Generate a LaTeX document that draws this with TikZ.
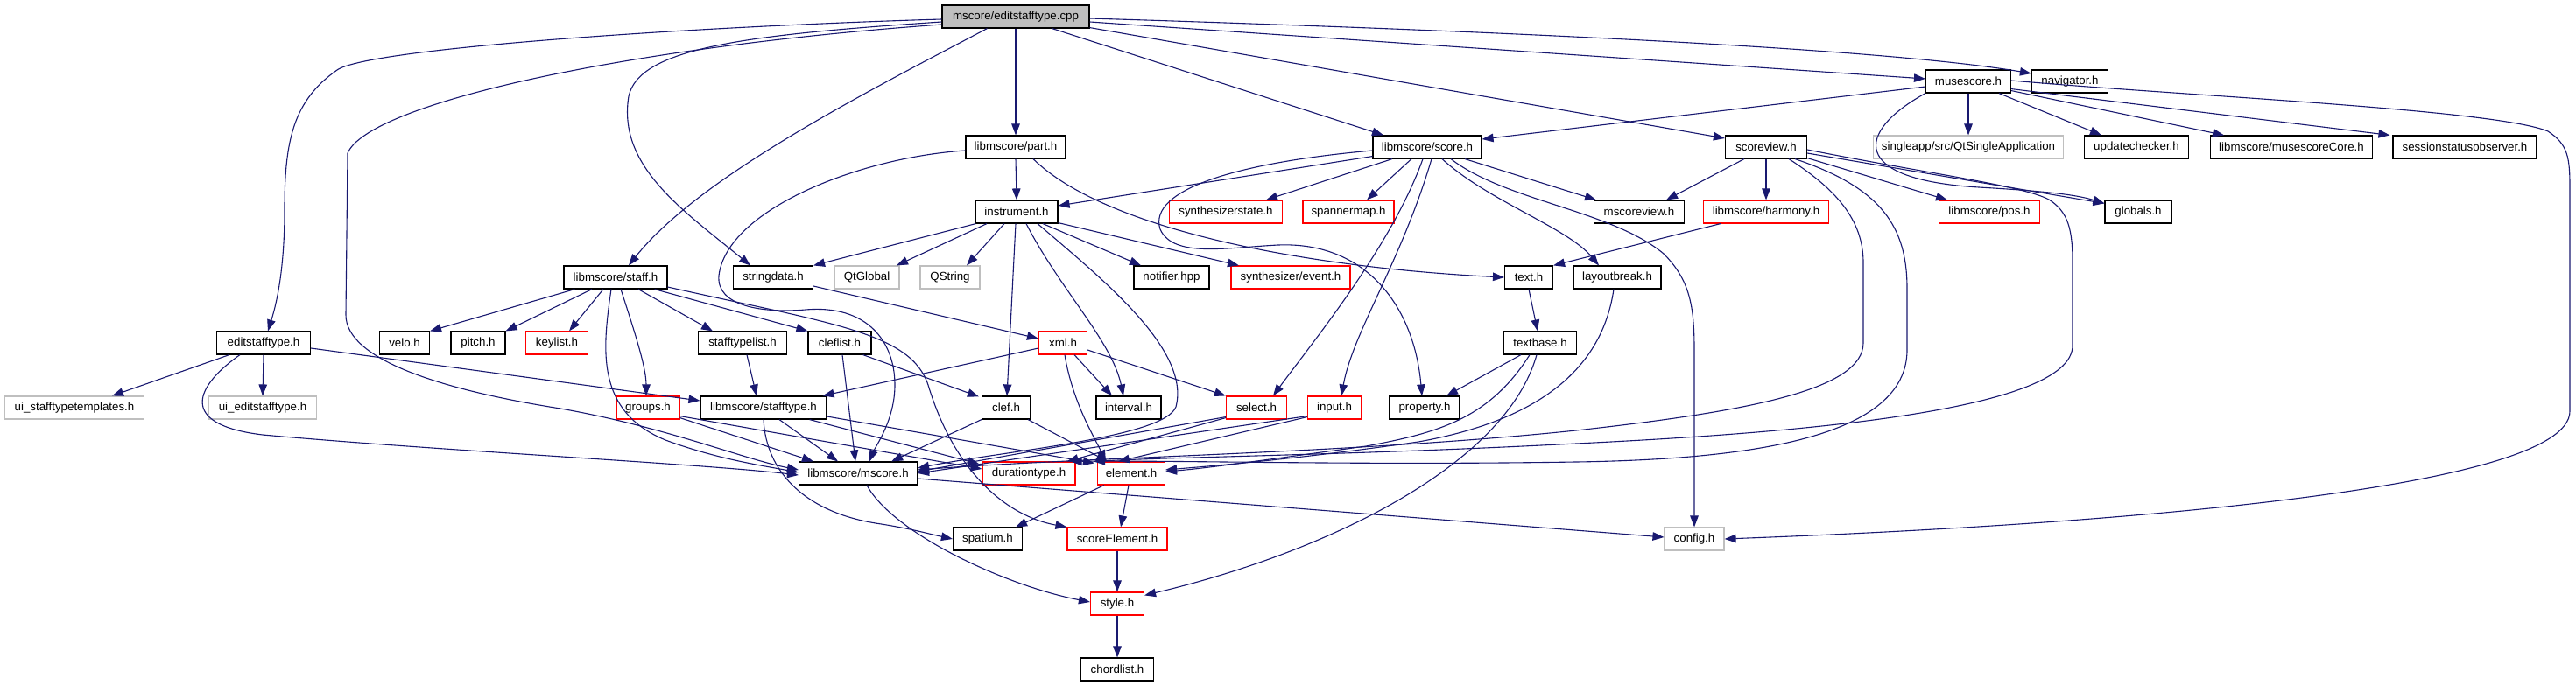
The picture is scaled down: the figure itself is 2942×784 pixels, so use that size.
\documentclass[tikz,border=0pt]{standalone}
\usepackage{fontspec}
\setmainfont{Liberation Sans}
\usetikzlibrary{arrows.meta,calc}
\definecolor{eblue}{HTML}{191970}
\definecolor{rootgray}{HTML}{BFBFBF}
\definecolor{lgray}{HTML}{BFBFBF}
\definecolor{nred}{HTML}{FF0000}
\tikzset{
  nb/.style={draw=black, fill=white, line width=1.15pt, minimum height=26pt, inner xsep=2pt, inner ysep=1pt,
    font=\fontsize{13.3}{15}\selectfont},
  nr/.style={nb, draw=nred},
  ng/.style={nb, draw=lgray},
  edg/.style={draw=eblue, line width=1.1pt, -{Triangle[length=13pt,width=9.5pt]}},
}
\begin{document}
\begin{tikzpicture}[x=1pt,y=-1pt]
\useasboundingbox (0,0) rectangle (2942,784);
% row 1
\node[nb, fill=rootgray, minimum width=168pt] (root) at (1160,19) {mscore/editstafftype.cpp};
% row 2
\node[nb, minimum width=97pt] (mus) at (2248,93) {musescore.h};
\node[nb, minimum width=87pt] (nav) at (2364,93) {navigator.h};
% row 3
\node[nb, minimum width=114pt] (part) at (1160,168) {libmscore/part.h};
\node[nb, minimum width=124pt] (score) at (1630,168) {libmscore/score.h};
\node[nb, minimum width=93pt] (sview) at (2017,168) {scoreview.h};
\node[ng, minimum width=217pt] (qsa) at (2248,168) {singleapp/src/QtSingleApplication};
\node[nb, minimum width=119pt] (upd) at (2440,168) {updatechecker.h};
\node[nb, minimum width=185pt] (mcore) at (2617,168) {libmscore/musescoreCore.h};
\node[nb, minimum width=164pt] (sso) at (2815,168) {sessionstatusobserver.h};
% row 4
\node[nb, minimum width=94pt] (instr) at (1161,242) {instrument.h};
\node[nr, minimum width=129pt] (synst) at (1400,242) {synthesizerstate.h};
\node[nr, minimum width=104pt] (spmap) at (1540,242) {spannermap.h};
\node[nb, minimum width=103pt] (msv) at (1872,242) {mscoreview.h};
\node[nr, minimum width=143pt] (harm) at (2017,242) {libmscore/harmony.h};
\node[nr, minimum width=115pt] (pos) at (2272,242) {libmscore/pos.h};
\node[nb, minimum width=76pt] (glob) at (2442,242) {globals.h};
% row 5
\node[nb, minimum width=118pt] (staff) at (703,317) {libmscore/staff.h};
\node[nb, minimum width=91pt] (sdata) at (883,317) {stringdata.h};
\node[ng, minimum width=74pt] (qtg) at (990,317) {QtGlobal};
\node[ng, minimum width=68pt] (qstr) at (1085,317) {QString};
\node[nb, minimum width=86pt] (notif) at (1338,317) {notifier.hpp};
\node[nr, minimum width=136pt] (sev) at (1474,317) {synthesizer/event.h};
\node[nb, minimum width=55pt] (text) at (1746,317) {text.h};
\node[nb, minimum width=100pt] (lbrk) at (1847,317) {layoutbreak.h};
% row 6
\node[nb, minimum width=107pt] (esth) at (301,392) {editstafftype.h};
\node[nb, minimum width=57pt] (velo) at (462,392) {velo.h};
\node[nb, minimum width=62pt] (pitch) at (546,392) {pitch.h};
\node[nr, minimum width=71pt] (keyl) at (636,392) {keylist.h};
\node[nb, minimum width=101pt] (stl) at (848,392) {stafftypelist.h};
\node[nb, minimum width=72pt] (cfl) at (959,392) {cleflist.h};
\node[nr, minimum width=55pt] (xml) at (1214,392) {xml.h};
\node[nb, minimum width=83pt] (tbase) at (1759,392) {textbase.h};
% row 7
\node[ng, minimum width=159pt] (uitt) at (85,466) {ui\_stafftypetemplates.h};
\node[ng, minimum width=123pt] (uiest) at (300,466) {ui\_editstafftype.h};
\node[nr, minimum width=72pt] (groups) at (740,466) {groups.h};
\node[nb, minimum width=144pt] (stype) at (872,466) {libmscore/stafftype.h};
\node[nb, minimum width=55pt] (clef) at (1149,466) {clef.h};
\node[nb, minimum width=74pt] (intv) at (1289,466) {interval.h};
\node[nr, minimum width=69pt] (sel) at (1435,466) {select.h};
\node[nr, minimum width=61pt] (inp) at (1524,466) {input.h};
\node[nb, minimum width=80pt] (prop) at (1627,466) {property.h};
% row 8
\node[nb, minimum width=135pt] (mscore) at (980,541) {libmscore/mscore.h};
\node[nr, minimum width=106pt] (dur) at (1175,541) {durationtype.h};
\node[nr, minimum width=77pt] (elem) at (1292,541) {element.h};
% row 9
\node[nb, minimum width=79pt] (spat) at (1128,616) {spatium.h};
\node[nr, minimum width=114pt] (selem) at (1276,616) {scoreElement.h};
\node[ng, minimum width=68pt] (config) at (1935,616) {config.h};
% row 10-11
\node[nr, minimum width=61pt] (style) at (1276,690) {style.h};
\node[nb, minimum width=83pt] (chord) at (1276,765) {chordlist.h};

% ---- edges from root
\draw[edg] ($(root.west)+(0,3)$) .. controls (800,30) and (420,55) .. (385,80) .. controls (335,115) and (325,160) .. (325,240) .. controls (325,300) and (318,340) .. ($(esth.north)+(5,0)$);
\draw[edg] ($(root.west)+(0,9)$) .. controls (700,55) and (420,120) .. (397,175) -- (395,360) .. controls (395,410) and (500,445) .. (640,467) .. controls (760,488) and (850,525) .. ($(mscore.west)+(0,-4)$);
\draw[edg] ($(root.west)+(0,6)$) .. controls (850,40) and (730,55) .. (718,110) .. controls (705,190) and (780,240) .. ($(sdata.north)+(-26,0)$);
\draw[edg] ($(root.south west)+(52,0)$) .. controls (1000,100) and (800,200) .. ($(staff.north)+(15,0)$);
\draw[edg] (root.south) -- (part.north);
\draw[edg] ($(root.south east)+(-43,0)$) -- ($(score.north)+(-50,0)$);
\draw[edg] ($(root.south east)+(0,-1)$) -- ($(sview.west)+(0,-10)$);
\draw[edg] ($(root.east)+(0,6)$) -- ($(mus.west)+(0,-3)$);
\draw[edg] ($(root.east)+(0,2)$) .. controls (1700,35) and (2150,55) .. ($(nav.west)+(0,-9)$);

% ---- musescore.h
\draw[edg] ($(mus.west)+(0,6)$) -- ($(score.east)+(0,-9)$);
\draw[edg] (mus.south) -- (qsa.north);
\draw[edg] ($(mus.south)+(35,0)$) -- ($(upd.north)+(-40,0)$);
\draw[edg] ($(mus.south east)+(0,-3)$) -- ($(mcore.north)+(-77,0)$);
\draw[edg] ($(mus.south east)+(0,-5)$) -- ($(sso.north west)+(-3,0)$);
\draw[edg] (mus.south west) .. controls (2120,150) and (2110,205) .. (2260,214) .. controls (2330,218) and (2370,222) .. ($(glob.north west)+(0,4)$);
\draw[edg] ($(mus.east)+(0,-1)$) .. controls (2500,110) and (2850,125) .. (2910,150) .. controls (2933,165) and (2935,180) .. (2935,215) -- (2935,470) .. controls (2935,560) and (2400,600) .. (config.east);

% ---- score.h
\draw[edg] ($(score.south west)+(0,-3)$) -- ($(instr.east)+(0,-7)$);
\draw[edg] ($(score.south)+(-40,0)$) -- ($(synst.north)+(46,0)$);
\draw[edg] ($(score.south)+(-18,0)$) -- ($(spmap.north)+(21,0)$);
\draw[edg] ($(score.south)+(43,0)$) -- ($(msv.north)+(-49,0)$);
\draw[edg] ($(score.south)+(17,0)$) .. controls (1700,230) and (1790,260) .. ($(lbrk.north)+(-21,0)$);
\draw[edg] ($(score.south)+(27,0)$) .. controls (1720,230) and (1840,240) .. (1900,290) .. controls (1930,320) and (1935,350) .. (1935,400) -- (config.north);
\draw[edg] ($(score.west)+(0,4)$) .. controls (1420,185) and (1310,215) .. (1325,262) .. controls (1340,295) and (1400,283) .. (1460,280) .. controls (1560,276) and (1615,350) .. ($(prop.north)+(-3,0)$);
\draw[edg] ($(score.south)+(-5,0)$) .. controls (1590,280) and (1500,390) .. ($(sel.north)+(19,0)$);
\draw[edg] ($(score.south)+(5,0)$) .. controls (1600,300) and (1545,380) .. ($(inp.north)+(8,0)$);

% ---- scoreview.h
\draw[edg] ($(sview.south)+(-25,0)$) -- ($(msv.north)+(31,0)$);
\draw[edg] (sview.south) -- (harm.north);
\draw[edg] ($(sview.south east)+(0,-1)$) -- ($(pos.north)+(-48,0)$);
\draw[edg] ($(sview.east)+(0,7)$) -- ($(glob.north west)+(0,4)$);
\draw[edg] ($(sview.south)+(26,0)$) .. controls (2095,215) and (2128,250) .. (2128,300) -- (2128,392) .. controls (2128,445) and (2000,470) .. (1800,492) .. controls (1550,518) and (1250,522) .. ($(mscore.east)+(0,-4)$);
\draw[edg] ($(sview.south)+(33,0)$) .. controls (2150,215) and (2178,260) .. (2178,330) -- (2178,400) .. controls (2178,500) and (2000,525) .. (1800,528) .. controls (1550,532) and (1350,526) .. ($(dur.north east)+(-6,0)$);
\draw[edg] ($(sview.east)+(0,3)$) .. controls (2200,198) and (2310,212) .. (2340,228) .. controls (2362,242) and (2367,262) .. (2367,300) -- (2367,395) .. controls (2367,470) and (2050,495) .. (1800,507) .. controls (1550,520) and (1350,522) .. ($(elem.north west)+(-4,0)$);

% ---- instrument.h
\draw[edg] ($(instr.south west)+(1,0)$) -- (sdata.north east);
\draw[edg] ($(instr.south)+(-34,0)$) -- ($(qtg.north)+(34,0)$);
\draw[edg] ($(instr.south)+(-14,0)$) -- ($(qstr.north)+(19,0)$);
\draw[edg] ($(instr.south)+(30,0)$) -- ($(notif.north)+(-35,0)$);
\draw[edg] ($(instr.south east)+(0,-1)$) -- ($(sev.north)+(-59,0)$);
\draw[edg] ($(instr.south)+(-1,0)$) -- ($(clef.north)+(1,0)$);
\draw[edg] ($(instr.south)+(11,0)$) .. controls (1210,330) and (1270,390) .. ($(intv.north)+(-6,0)$);
\draw[edg] ($(instr.south)+(24,0)$) .. controls (1260,320) and (1360,400) .. (1343,465) .. controls (1330,500) and (1150,515) .. ($(mscore.east)+(0,-6)$);

% ---- part.h
\draw[edg] (part.south) -- (instr.north);
\draw[edg] ($(part.west)+(0,4)$) .. controls (980,180) and (830,240) .. (821,315) .. controls (818,350) and (870,358) .. (920,354) .. controls (990,348) and (1022,390) .. (1022,440) .. controls (1022,480) and (1000,510) .. ($(mscore.north)+(13,0)$);
\draw[edg] ($(part.south)+(20,0)$) .. controls (1260,260) and (1480,305) .. (text.west);

% ---- harmony, text, layoutbreak, textbase
\draw[edg] ($(harm.south west)+(20,0)$) -- (text.north east);
\draw[edg] (text.south) -- ($(tbase.north)+(-3,0)$);
\draw[edg] ($(lbrk.south)+(-4,0)$) .. controls (1830,420) and (1760,480) .. (1620,505) .. controls (1480,525) and (1380,533) .. ($(elem.east)+(0,-4)$);
\draw[edg] ($(tbase.south)+(-22,0)$) -- ($(prop.north)+(25,0)$);
\draw[edg] ($(tbase.south)+(-12,0)$) .. controls (1700,480) and (1640,495) .. (1560,510) .. controls (1450,525) and (1380,535) .. ($(elem.east)+(0,-2)$);
\draw[edg] ($(tbase.south)+(-4,0)$) .. controls (1720,530) and (1520,630) .. ($(style.north east)+(0,4)$);

% ---- staff.h
\draw[edg] ($(staff.south west)+(13,0)$) -- (velo.north east);
\draw[edg] ($(staff.south)+(-27,0)$) -- (pitch.north east);
\draw[edg] ($(staff.south)+(-14,0)$) -- ($(keyl.north)+(14,0)$);
\draw[edg] ($(staff.south)+(-5,0)$) .. controls (688,400) and (680,470) .. (760,503) .. controls (820,525) and (870,532) .. ($(mscore.west)+(0,-1)$);
\draw[edg] ($(staff.south)+(6,0)$) .. controls (725,380) and (738,420) .. ($(groups.north)+(-2,0)$);
\draw[edg] ($(staff.south)+(26,0)$) -- ($(stl.north)+(-34,0)$);
\draw[edg] ($(staff.south east)+(-15,0)$) -- (cfl.north west);
\draw[edg] ($(staff.east)+(0,11)$) .. controls (950,370) and (1040,380) .. (1060,440) .. controls (1090,540) and (1150,590) .. (selem.north west);

% ---- editstafftype.h
\draw[edg] ($(esth.south west)+(15,0)$) -- ($(uitt.north)+(43,0)$);
\draw[edg] (esth.south) -- (uiest.north);
\draw[edg] ($(esth.east)+(0,6)$) -- ($(stype.west)+(0,-8)$);
\draw[edg] ($(esth.south)+(-27,0)$) .. controls (225,440) and (200,485) .. (300,497) .. controls (500,515) and (800,530) .. ($(mscore.west)+(0,2)$);

% ---- stafftypelist, cleflist, stringdata, xml
\draw[edg] ($(stl.south)+(5,0)$) -- ($(stype.north)+(-8,0)$);
\draw[edg] ($(cfl.south east)+(-10,0)$) -- ($(clef.north west)+(-3,1)$);
\draw[edg] ($(cfl.south)+(3,0)$) -- ($(mscore.north)+(-3,0)$);
\draw[edg] ($(sdata.east)+(0,10)$) -- ($(xml.west)+(0,-5)$);
\draw[edg] ($(xml.west)+(0,6)$) -- ($(stype.north east)+(-5,0)$);
\draw[edg] ($(xml.south)+(13,0)$) -- ($(intv.north)+(-19,0)$);
\draw[edg] ($(xml.east)+(0,8)$) -- (sel.north west);
\draw[edg] ($(xml.south)+(2,0)$) .. controls (1225,460) and (1250,500) .. ($(elem.north)+(-29,0)$);

% ---- groups, stafftype
\draw[edg] ($(groups.south east)+(0,-2)$) -- ($(mscore.north west)+(17,0)$);
\draw[edg] ($(groups.south east)+(0,-4)$) -- ($(dur.west)+(0,-5)$);
\draw[edg] ($(stype.south)+(18,0)$) -- ($(mscore.north)+(-23,0)$);
\draw[edg] ($(stype.south east)+(-20,0)$) -- ($(dur.north west)+(-3,3)$);
\draw[edg] ($(stype.east)+(0,10)$) -- ($(elem.north west)+(-3,2)$);
\draw[edg] (stype.south) .. controls (875,540) and (920,585) .. (1000,598) .. controls (1040,604) and (1060,610) .. (spat.west);

% ---- clef, select, input
\draw[edg] (clef.south west) -- ($(mscore.north east)+(-30,0)$);
\draw[edg] ($(clef.south east)+(-3,0)$) -- ($(elem.north)+(-27,0)$);
\draw[edg] ($(sel.south west)+(0,-3)$) -- ($(mscore.east)+(0,-2)$);
\draw[edg] ($(sel.south west)+(0,-2)$) -- ($(dur.north east)+(-10,0)$);
\draw[edg] ($(inp.south west)+(0,-4)$) -- (mscore.east);
\draw[edg] ($(inp.south west)+(0,-3)$) -- ($(elem.north)+(-15,0)$);

% ---- mscore, element, scoreElement, style
\draw[edg] ($(mscore.east)+(0,6)$) -- ($(config.west)+(0,-2)$);
\draw[edg] ($(mscore.south)+(10,0)$) .. controls (1020,610) and (1150,670) .. ($(style.west)+(0,-2)$);
\draw[edg] ($(elem.south west)+(8,0)$) -- ($(spat.north east)+(-8,0)$);
\draw[edg] ($(elem.south)+(-3,0)$) -- ($(selem.north)+(4,0)$);
\draw[edg] (selem.south) -- (style.north);
\draw[edg] (style.south) -- (chord.north);
\end{tikzpicture}
\end{document}
